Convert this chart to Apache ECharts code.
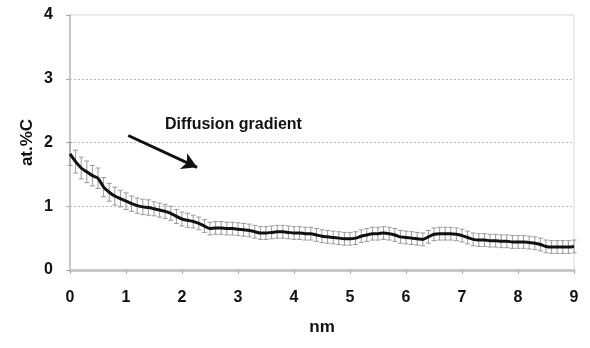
<!DOCTYPE html>
<html>
<head>
<meta charset="utf-8">
<script src="https://cdn.jsdelivr.net/npm/echarts@6/dist/echarts.min.js"></script>
<style>
  html, body { margin: 0; padding: 0; background: #fff; }
  #chart { width: 590px; height: 348px; }
</style>
</head>
<body>
<div id="chart"></div>
<script>
// depth in nm, every 0.1 nm
const depth = [
  0.0, 0.1, 0.2, 0.3, 0.4, 0.5, 0.6, 0.7, 0.8, 0.9,
  1.0, 1.1, 1.2, 1.3, 1.4, 1.5, 1.6, 1.7, 1.8, 1.9,
  2.0, 2.1, 2.2, 2.3, 2.4, 2.5, 2.6, 2.7, 2.8, 2.9,
  3.0, 3.1, 3.2, 3.3, 3.4, 3.5, 3.6, 3.7, 3.8, 3.9,
  4.0, 4.1, 4.2, 4.3, 4.4, 4.5, 4.6, 4.7, 4.8, 4.9,
  5.0, 5.1, 5.2, 5.3, 5.4, 5.5, 5.6, 5.7, 5.8, 5.9,
  6.0, 6.1, 6.2, 6.3, 6.4, 6.5, 6.6, 6.7, 6.8, 6.9,
  7.0, 7.1, 7.2, 7.3, 7.4, 7.5, 7.6, 7.7, 7.8, 7.9,
  8.0, 8.1, 8.2, 8.3, 8.4, 8.5, 8.6, 8.7, 8.8, 8.9,
  9.0
]

// at.% C
const carbon = [
  1.82, 1.70, 1.60, 1.54, 1.48, 1.44, 1.30, 1.22, 1.16, 1.12,
  1.08, 1.04, 1.01, 0.99, 0.98, 0.96, 0.94, 0.92, 0.89, 0.84,
  0.80, 0.78, 0.76, 0.73, 0.69, 0.65, 0.66, 0.66, 0.65, 0.65,
  0.64, 0.63, 0.62, 0.60, 0.58, 0.58, 0.59, 0.60, 0.60, 0.59,
  0.58, 0.58, 0.57, 0.57, 0.55, 0.53, 0.52, 0.51, 0.50, 0.49,
  0.49, 0.50, 0.53, 0.55, 0.57, 0.57, 0.58, 0.57, 0.55, 0.52,
  0.51, 0.50, 0.49, 0.48, 0.52, 0.56, 0.57, 0.57, 0.57, 0.56,
  0.54, 0.51, 0.48, 0.47, 0.47, 0.46, 0.46, 0.45, 0.45, 0.44,
  0.44, 0.44, 0.43, 0.42, 0.40, 0.37, 0.36, 0.36, 0.36, 0.36,
  0.37
]

// error bar half-heights
const carbonErr = [
  0.18, 0.18, 0.17, 0.17, 0.16, 0.16, 0.15, 0.14, 0.14, 0.13,
  0.13, 0.12, 0.12, 0.12, 0.12, 0.11, 0.11, 0.11, 0.11, 0.11,
  0.11, 0.11, 0.10, 0.10, 0.10, 0.10, 0.10, 0.10, 0.10, 0.10,
  0.10, 0.10, 0.10, 0.10, 0.10, 0.10, 0.10, 0.10, 0.10, 0.10,
  0.10, 0.10, 0.10, 0.10, 0.10, 0.10, 0.10, 0.10, 0.10, 0.10,
  0.10, 0.10, 0.10, 0.10, 0.10, 0.10, 0.10, 0.10, 0.10, 0.10,
  0.10, 0.10, 0.10, 0.10, 0.10, 0.10, 0.10, 0.10, 0.10, 0.10,
  0.10, 0.10, 0.10, 0.10, 0.10, 0.10, 0.10, 0.10, 0.10, 0.10,
  0.10, 0.10, 0.10, 0.10, 0.10, 0.10, 0.10, 0.10, 0.10, 0.10,
  0.10
]

const xTicks = [0, 1, 2, 3, 4, 5, 6, 7, 8, 9]
const yTicks = [0, 1, 2, 3, 4]

// arrow annotation, in data units
const arrowFrom = [1.04, 2.11]
const arrowTo = [2.27, 1.61]
const annotation = "Diffusion gradient"

const font = "'Liberation Sans', Arial, sans-serif"
const axisGrey = "#c8c8c8"

const lineData = depth.map((d, i) => [d, carbon[i]])
const errData = depth.map((d, i) => [d, carbon[i] - carbonErr[i], carbon[i] + carbonErr[i]])

const chart = echarts.init(document.getElementById("chart"), null, { renderer: "canvas" })

const option = {
  backgroundColor: "#ffffff",
  animation: false,
  grid: {
    left: 70,
    right: 16,
    top: 15,
    bottom: 78,
    show: true,
    borderColor: "#d8d8d8",
    borderWidth: 1,
  },
  xAxis: {
    type: "value",
    min: xTicks[0],
    max: xTicks[xTicks.length - 1],
    interval: 1,
    name: "nm",
    nameLocation: "middle",
    nameGap: 49,
    nameTextStyle: { fontFamily: font, fontWeight: "bold", fontSize: 17, color: "#111" },
    axisLine: { lineStyle: { color: axisGrey, width: 3 } },
    axisTick: { show: true, length: 4, lineStyle: { color: "#aaa" } },
    axisLabel: { fontFamily: font, fontWeight: "bold", fontSize: 16, color: "#111", margin: 20 },
    splitLine: { show: false },
  },
  yAxis: {
    type: "value",
    min: yTicks[0],
    max: yTicks[yTicks.length - 1],
    interval: 1,
    name: "at.%C",
    nameLocation: "middle",
    nameGap: 34,
    nameRotate: 90,
    nameMoveOverlap: false,
    nameTextStyle: { fontFamily: font, fontWeight: "bold", fontSize: 17, color: "#111" },
    axisLine: { show: true, lineStyle: { color: axisGrey, width: 2 } },
    axisTick: { show: true, length: 4, lineStyle: { color: "#aaa" } },
    axisLabel: { fontFamily: font, fontWeight: "bold", fontSize: 16, color: "#111", margin: 17 },
    splitLine: {
      show: true,
      showMinLine: false,
      showMaxLine: false,
      lineStyle: { color: "#b8b8b8", type: [2, 2], width: 1 },
    },
  },
  graphic: [
    {
      type: "text",
      left: 165,
      top: 117,
      style: {
        text: annotation,
        fontFamily: font,
        fontWeight: "bold",
        fontSize: 16,
        fill: "#111",
      },
    },
  ],
  series: [
    {
      name: "error",
      type: "custom",
      data: errData,
      z: 2,
      renderItem: (params, api) => {
        const lo = api.coord([api.value(0), api.value(1)])
        const hi = api.coord([api.value(0), api.value(2)])
        const cap = 2.5
        const style = { stroke: "#999", lineWidth: 1 }
        return {
          type: "group",
          children: [
            { type: "line", shape: { x1: lo[0], y1: lo[1], x2: hi[0], y2: hi[1] }, style },
            { type: "line", shape: { x1: lo[0] - cap, y1: lo[1], x2: lo[0] + cap, y2: lo[1] }, style },
            { type: "line", shape: { x1: hi[0] - cap, y1: hi[1], x2: hi[0] + cap, y2: hi[1] }, style },
          ],
        }
      },
    },
    {
      name: "at.%C",
      type: "line",
      data: lineData,
      z: 3,
      smooth: 0.3,
      showSymbol: false,
      lineStyle: { color: "#111", width: 3 },
      markLine: {
        silent: true,
        symbol: ["none", "arrow"],
        symbolSize: [13, 15],
        label: { show: false },
        lineStyle: { color: "#111", width: 3, type: "solid" },
        data: [[{ coord: arrowFrom }, { coord: arrowTo }]],
      },
    },
  ],
}

chart.setOption(option)
</script>
</body>
</html>
